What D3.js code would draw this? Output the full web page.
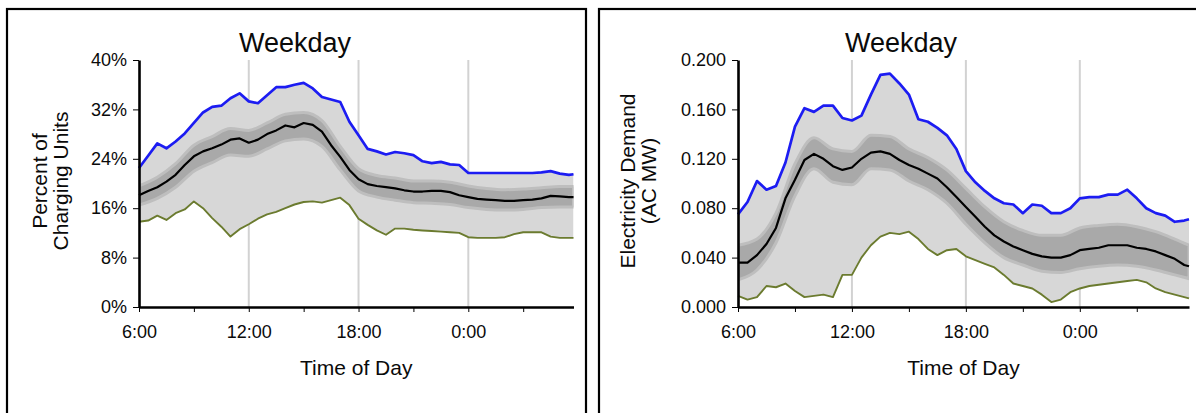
<!DOCTYPE html>
<html>
<head>
<meta charset="utf-8">
<script src="https://cdn.jsdelivr.net/npm/d3@7"></script>
<style>
  body { margin: 0; background: #fff; }
  text { font-family: 'Liberation Sans', Arial, sans-serif; fill: #0a0a0a; }
</style>
</head>
<body>
<div id="chart"></div>
<script>
// time of day in hours, 6:00 through 5:45 next morning
var hours = [6, 6.5, 7, 7.5, 8, 8.5, 9, 9.5, 10, 10.5, 11, 11.5, 12, 12.5, 13, 13.5,
  14, 14.5, 15, 15.5, 16, 16.5, 17, 17.5, 18, 18.5, 19, 19.5, 20, 20.5, 21, 21.5,
  22, 22.5, 23, 23.5, 24, 24.5, 25, 25.5, 26, 26.5, 27, 27.5, 28, 28.5, 29, 29.5, 29.75]
var bandHours = [6, 7, 8, 9, 10, 11, 12, 13, 14, 15, 16, 17, 18, 19, 20, 21, 22, 23,
  24, 25, 26, 27, 28, 29, 29.75]

// left: percent of charging units
var pctMax = [22.5, 24.5, 26.5, 25.7, 26.8, 28.1, 29.8, 31.5, 32.4, 32.6, 33.8, 34.6, 33.3, 33.0, 34.3, 35.6,
  35.6, 36.0, 36.3, 35.4, 34.0, 33.6, 33.2, 30.0, 27.8, 25.6, 25.2, 24.7, 25.1, 24.9, 24.6, 23.6,
  23.3, 23.5, 23.1, 23.0, 21.7, 21.7, 21.7, 21.7, 21.7, 21.7, 21.7, 21.7, 21.8, 22.0, 21.6, 21.4, 21.5]
var pctMean = [18.1, 18.8, 19.4, 20.3, 21.4, 23.0, 24.4, 25.2, 25.7, 26.3, 27.1, 27.3, 26.6, 27.1, 28.0, 28.6,
  29.4, 29.1, 29.8, 29.5, 28.4, 26.2, 24.3, 22.2, 20.7, 19.9, 19.6, 19.4, 19.2, 18.9, 18.7, 18.7,
  18.8, 18.8, 18.6, 18.1, 17.8, 17.5, 17.4, 17.3, 17.2, 17.2, 17.3, 17.4, 17.6, 18.0, 17.9, 17.8, 17.8]
var pctMin = [13.8, 14.0, 14.8, 14.1, 15.2, 15.8, 17.1, 16.0, 14.4, 13.0, 11.4, 12.6, 13.4, 14.3, 15.0, 15.4,
  16.0, 16.6, 17.0, 17.1, 16.9, 17.3, 17.7, 16.5, 14.3, 13.3, 12.4, 11.7, 12.7, 12.7, 12.5, 12.4,
  12.3, 12.2, 12.1, 12.0, 11.3, 11.2, 11.2, 11.2, 11.3, 11.8, 12.1, 12.1, 12.1, 11.4, 11.2, 11.2, 11.2]
var pctBandHi = [19.6, 21.0, 23.2, 26.2, 27.6, 28.9, 28.6, 29.8, 31.2, 31.5, 30.2, 26.0, 22.4,
  21.3, 20.9, 20.4, 20.4, 20.2, 19.6, 19.2, 19.0, 19.1, 19.3, 19.5, 19.5]
var pctBandLo = [16.5, 17.6, 19.4, 22.0, 23.4, 24.6, 24.4, 25.6, 26.9, 27.2, 26.0, 22.2, 18.8,
  17.8, 17.3, 16.9, 16.8, 16.6, 16.1, 15.8, 15.7, 15.8, 16.1, 16.2, 16.2]

// right: electricity demand, AC MW
var mwMax = [0.075, 0.085, 0.102, 0.095, 0.098, 0.117, 0.146, 0.161, 0.158, 0.163, 0.163, 0.153, 0.151, 0.155, 0.172, 0.188,
  0.189, 0.181, 0.172, 0.152, 0.150, 0.145, 0.139, 0.128, 0.110, 0.101, 0.094, 0.088, 0.084, 0.083, 0.076, 0.083,
  0.082, 0.076, 0.076, 0.080, 0.088, 0.089, 0.089, 0.091, 0.091, 0.095, 0.088, 0.080, 0.076, 0.074, 0.069, 0.070, 0.071]
var mwMean = [0.036, 0.036, 0.042, 0.051, 0.064, 0.088, 0.103, 0.119, 0.124, 0.120, 0.114, 0.111, 0.113, 0.120, 0.125, 0.126,
  0.124, 0.119, 0.115, 0.112, 0.108, 0.104, 0.097, 0.089, 0.081, 0.073, 0.065, 0.058, 0.053, 0.049, 0.046, 0.043,
  0.041, 0.040, 0.040, 0.042, 0.046, 0.047, 0.048, 0.050, 0.050, 0.050, 0.048, 0.047, 0.045, 0.042, 0.039, 0.034, 0.033]
var mwMin = [0.009, 0.006, 0.008, 0.017, 0.016, 0.019, 0.013, 0.008, 0.009, 0.010, 0.008, 0.026, 0.026, 0.040, 0.050, 0.057,
  0.060, 0.059, 0.061, 0.055, 0.047, 0.042, 0.046, 0.047, 0.041, 0.038, 0.035, 0.032, 0.026, 0.019, 0.017, 0.015,
  0.010, 0.004, 0.006, 0.012, 0.015, 0.017, 0.018, 0.019, 0.020, 0.021, 0.022, 0.020, 0.015, 0.012, 0.010, 0.008, 0.007]
var mwBandHi = [0.050, 0.055, 0.076, 0.116, 0.137, 0.128, 0.126, 0.139, 0.138, 0.128, 0.121, 0.111, 0.096,
  0.081, 0.069, 0.062, 0.058, 0.058, 0.064, 0.066, 0.067, 0.065, 0.061, 0.055, 0.050]
var mwBandLo = [0.022, 0.030, 0.052, 0.090, 0.112, 0.101, 0.099, 0.112, 0.111, 0.102, 0.095, 0.084, 0.067,
  0.052, 0.040, 0.034, 0.029, 0.028, 0.031, 0.033, 0.034, 0.033, 0.030, 0.026, 0.023]

var pctTicks = [0, 8, 16, 24, 32, 40]
var mwTicks = [0, 0.04, 0.08, 0.12, 0.16, 0.2]
var timeTicks = [6, 9, 12, 15, 18, 21, 24, 27]
var gridHours = [12, 18, 24]

var width = 1196
var height = 413
var plotTop = 60
var plotBottom = 307

var svg = d3.select('#chart')
  .append('svg')
  .attr('width', width)
  .attr('height', height)

function drawPanel(p) {
  var g = svg.append('g')

  // frame, cut off by the page edges like the source image
  g.append('rect')
    .attr('x', p.boxX)
    .attr('y', 9)
    .attr('width', p.boxW)
    .attr('height', 500)
    .attr('fill', 'none')
    .attr('stroke', '#000')
    .attr('stroke-width', 2.2)

  var x = d3.scaleLinear().domain([6, 29.75]).range([p.left, p.right])
  var y = d3.scaleLinear().domain([0, p.yMax]).range([plotBottom, plotTop])

  g.append('clipPath')
    .attr('id', p.id + '-clip')
    .append('rect')
    .attr('x', p.left)
    .attr('y', plotTop - 5)
    .attr('width', p.right - p.left)
    .attr('height', plotBottom - plotTop + 5)

  // vertical grid at 12:00, 18:00, 0:00
  g.selectAll('.grid')
    .data(gridHours)
    .enter()
    .append('line')
    .attr('x1', d => x(d))
    .attr('x2', d => x(d))
    .attr('y1', plotTop)
    .attr('y2', plotBottom)
    .attr('stroke', '#d2d2d2')
    .attr('stroke-width', 2)

  var rows = hours.map((h, i) => ({ h: h, max: p.max[i], mean: p.mean[i], min: p.min[i] }))
  var bandRows = bandHours.map((h, i) => ({ h: h, hi: p.bandHi[i], lo: p.bandLo[i] }))

  var plot = g.append('g').attr('clip-path', 'url(#' + p.id + '-clip)')

  plot.append('path')
    .datum(rows)
    .attr('fill', '#d7d7d7')
    .attr('d', d3.area().x(d => x(d.h)).y0(d => y(d.min)).y1(d => y(d.max)))

  plot.append('path')
    .datum(bandRows)
    .attr('fill', '#a9a9a9')
    .attr('stroke', '#bebebe')
    .attr('stroke-width', 3)
    .attr('d', d3.area().curve(d3.curveMonotoneX).x(d => x(d.h)).y0(d => y(d.lo)).y1(d => y(d.hi)))

  var lines = [
    { key: 'min', color: '#6b7b2f', w: 1.9 },
    { key: 'max', color: '#1c1cf2', w: 2.7 },
    { key: 'mean', color: '#000', w: 2.2 }
  ]
  lines.forEach(l => {
    g.append('path')
      .datum(rows)
      .attr('fill', 'none')
      .attr('stroke', l.color)
      .attr('stroke-width', l.w)
      .attr('stroke-linejoin', 'round')
      .attr('d', d3.line().x(d => x(d.h)).y(d => y(d[l.key])))
  })

  // axes
  var yAxis = g.append('g')
    .attr('transform', 'translate(' + p.left + ',0)')
    .call(d3.axisLeft(y).tickValues(p.ticks).tickFormat(p.fmt).tickSize(6).tickSizeOuter(0).tickPadding(6))
  var xAxis = g.append('g')
    .attr('transform', 'translate(0,' + plotBottom + ')')
    .call(
      d3.axisBottom(x)
        .tickValues(timeTicks)
        .tickFormat(d => (d % 6 === 0 ? (d % 24) + ':00' : ''))
        .tickSize(5)
        .tickSizeOuter(0)
        .tickPadding(13)
    )
  ;[yAxis, xAxis].forEach(a => {
    a.select('.domain').attr('stroke-width', 2.6)
    a.selectAll('.tick line').attr('stroke-width', 1)
    a.selectAll('text').attr('font-size', 18).attr('font-family', null)
  })

  // title
  g.append('text')
    .attr('x', p.titleX)
    .attr('y', 52)
    .attr('text-anchor', 'middle')
    .attr('font-size', 27)
    .text('Weekday')

  // axis titles
  g.append('text')
    .attr('x', (p.left + p.right) / 2)
    .attr('y', 375)
    .attr('text-anchor', 'middle')
    .attr('font-size', 21)
    .text('Time of Day')

  p.yLabel.forEach((t, i) => {
    g.append('text')
      .attr('transform', 'translate(' + (p.yLabelX + i * 21) + ',181) rotate(-90)')
      .attr('text-anchor', 'middle')
      .attr('font-size', 21)
      .text(t)
  })
}

drawPanel({
  id: 'pct', boxX: 7, boxW: 579, left: 139, right: 573.5, yMax: 40, ticks: pctTicks,
  fmt: d => d + '%', max: pctMax, mean: pctMean, min: pctMin,
  bandHi: pctBandHi, bandLo: pctBandLo, titleX: 295,
  yLabel: ['Percent of', 'Charging Units'], yLabelX: 47
})

drawPanel({
  id: 'mw', boxX: 599, boxW: 700, left: 738, right: 1189, yMax: 0.2, ticks: mwTicks,
  fmt: d3.format('.3f'), max: mwMax, mean: mwMean, min: mwMin,
  bandHi: mwBandHi, bandLo: mwBandLo, titleX: 901,
  yLabel: ['Electricity Demand', '(AC MW)'], yLabelX: 635
})
</script>
</body>
</html>
